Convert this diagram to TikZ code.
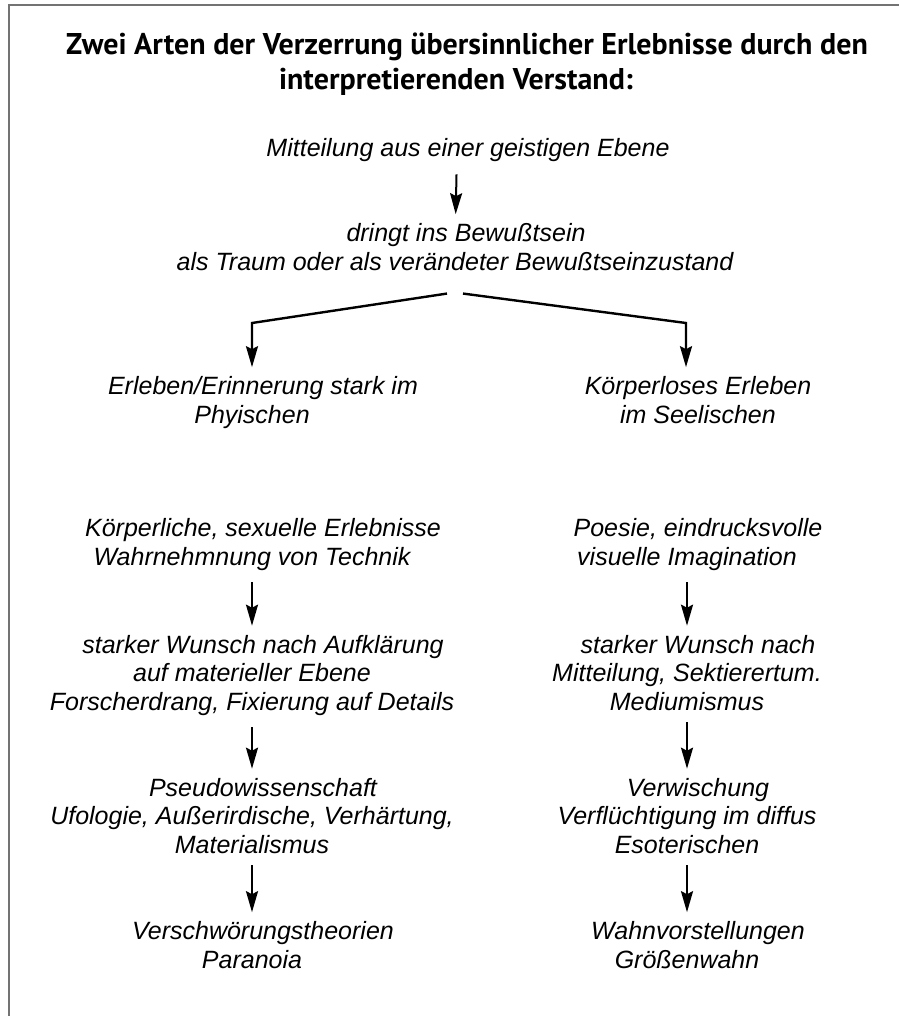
\documentclass[tikz,border=0pt]{standalone}
\usepackage{fontspec}
\setmainfont{Liberation Sans}
\newfontfamily\titlefont{PT Sans}
\usetikzlibrary{arrows.meta}
\newcommand{\lineshift}{\hspace*{22pt}}

\begin{document}
\begin{tikzpicture}[x=1pt, y=-1pt,
    txt/.style={anchor=base, align=center, inner sep=0pt,
      font=\fontsize{25}{28.5}\selectfont\itshape},
    hdr/.style={anchor=base, align=center, inner sep=0pt,
      font=\titlefont\fontsize{30}{35}\selectfont\bfseries},
    arr/.style={-{Stealth[length=21pt, width=12pt, inset=3pt]}, line width=2pt,
      shorten <=12pt, shorten >=9pt},
    frame/.style={line width=2pt, black!55}]
  \useasboundingbox (0, 0) rectangle (899, 1016);

  % Frame
  \draw [frame] (9, 1016) |- (899, 5);

  % Title (base = last line)
  \node [hdr] at (456, 90) (title) {\lineshift Zwei Arten der Verzerrung übersinnlicher Erlebnisse durch den\\interpretierenden Verstand:};

  % Top
  \node [txt] at (457, 157) (msg) {\lineshift Mitteilung aus einer geistigen Ebene};
  \node [txt] at (455, 270) (traum) {\lineshift dringt ins Bewußtsein\\als Traum oder als verändeter Bewußtseinzustand};
  \draw [arr] (msg) -- (traum);

  % Split
  \coordinate (lsplit) at (252, 323);
  \coordinate (rsplit) at (686, 323);
  \node [txt] at (252, 423) (erleben) {\lineshift Erleben/Erinnerung stark im\\Phyischen};
  \node [txt] at (698, 423) (seele) {Körperloses Erleben\\im Seelischen};
  \draw [arr, shorten <=0pt, line width=2.4pt] ([xshift=-8pt, yshift=-23pt]traum.south) -- (lsplit) -- (lsplit |- erleben.north);
  \draw [arr, shorten <=0pt, line width=2.4pt] ([xshift=8pt, yshift=-23pt]traum.south) -- (rsplit) -- (rsplit |- seele.north);

  % Left column
  \node [txt] at (252, 565) (koerper) {\lineshift Körperliche, sexuelle Erlebnisse\\Wahrnehmnung von Technik};
  \node [txt] at (252, 710) (wunschL) {\lineshift starker Wunsch nach Aufklärung\\auf materieller Ebene\\Forscherdrang, Fixierung auf Details};
  \node [txt] at (252, 853) (pseudo) {\lineshift Pseudowissenschaft\\Ufologie, Außerirdische, Verhärtung,\\Materialismus};
  \node [txt] at (252, 968) (paranoia) {\lineshift Verschwörungstheorien\\Paranoia};
  \draw [arr] (koerper) -- (wunschL);
  \draw [arr] (wunschL) -- (pseudo);
  \draw [arr] (pseudo) -- (paranoia);

  % Right column
  \node [txt] at (687, 565) (poesie) {\lineshift Poesie, eindrucksvolle\\visuelle Imagination};
  \node [txt] at (687, 710) (wunschR) {\lineshift starker Wunsch nach\\Mitteilung, Sektierertum.\\Mediumismus};
  \node [txt] at (687, 853) (verw) {\lineshift Verwischung\\Verflüchtigung im diffus\\Esoterischen};
  \node [txt] at (687, 968) (wahn) {\lineshift Wahnvorstellungen\\Größenwahn};
  \draw [arr] (poesie) -- (wunschR);
  \draw [arr] (wunschR) -- (verw);
  \draw [arr] (verw) -- (wahn);
\end{tikzpicture}
\end{document}
